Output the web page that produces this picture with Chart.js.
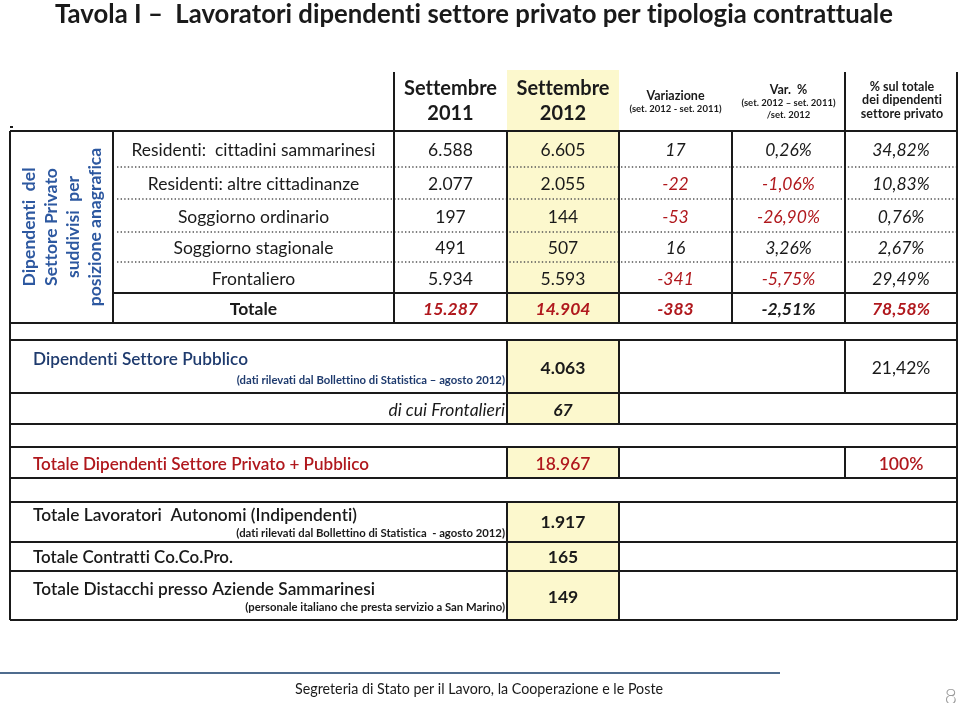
<!DOCTYPE html>
<html>
<head>
<meta charset="utf-8">
<script src="https://cdn.jsdelivr.net/npm/chart.js@4.4.1/dist/chart.umd.min.js"></script>
<style>
  html, body { margin: 0; padding: 0; background: #fff; }
  #wrap { width: 960px; height: 703px; }
</style>
</head>
<body>
<div id="wrap"><canvas id="tavola"></canvas></div>
<script>
const titolo = 'Tavola I \u2013  Lavoratori dipendenti settore privato per tipologia contrattuale';
const intestazioni = [
  ['Settembre', '2011'],
  ['Settembre', '2012'],
  ['Variazione', '(set. 2012 - set. 2011)'],
  ['Var.  %', '(set. 2012 \u2013 set. 2011)', '/set. 2012'],
  ['% sul totale', 'dei dipendenti', 'settore privato']
];
const gruppo = ['Dipendenti  del', 'Settore Privato', 'suddivisi  per', 'posizione anagrafica'];
const righe = ['Residenti:  cittadini sammarinesi', 'Residenti: altre cittadinanze', 'Soggiorno ordinario', 'Soggiorno stagionale', 'Frontaliero', 'Totale'];
const set2011 = [6588, 2077, 197, 491, 5934, 15287];
const set2012 = [6605, 2055, 144, 507, 5593, 14904];
const variazione = [17, -22, -53, 16, -341, -383];
const varPct = [0.26, -1.06, -26.90, 3.26, -5.75, -2.51];
const pctTotale = [34.82, 10.83, 0.76, 2.67, 29.49, 78.58];

const pubblicoVoce = ['Dipendenti Settore Pubblico', '(dati rilevati dal Bollettino di Statistica \u2013 agosto 2012)'];
const pubblicoValori = [4063, 21.42];
const frontalieriVoce = 'di cui Frontalieri';
const frontalieriValore = 67;
const totaleVoce = 'Totale Dipendenti Settore Privato + Pubblico';
const totaleValori = [18967, 100];
const altreVoci = ['Totale Lavoratori  Autonomi (Indipendenti)', 'Totale Contratti Co.Co.Pro.', 'Totale Distacchi presso Aziende Sammarinesi'];
const altreNote = ['(dati rilevati dal Bollettino di Statistica  - agosto 2012)', '', '(personale italiano che presta servizio a San Marino)'];
const altriValori = [1917, 165, 149];
const piede = 'Segreteria di Stato per il Lavoro, la Cooperazione e le Poste';
const pagina = '8';

// griglia della pagina (unita' = pixel della pagina)
const colX = [10, 113, 394, 507, 619, 732, 845, 957];
const corpoY = [131, 167, 199, 232, 262, 293, 323];
const sottoY = [340, 393, 424, 447, 478, 502, 542, 571, 620];

const FONT = 'Lato, "Open Sans", sans-serif';
const ROSSO = '#b0181d';
const NERO = '#1a1a1a';
const GIALLO = '#fcf8cd';
const CORPO = '17.5px';
const NOTA = '11.3px';

const fmtN = n => (n < 0 ? '-' : '') + String(Math.abs(n)).replace(/\B(?=(\d{3})+(?!\d))/g, '.');
const fmtP = n => (Number.isInteger(n) ? String(n) : n.toFixed(2).replace('.', ',')) + '%';

const colonne = [
  { valori: set2011, fmt: fmtN, corsivo: false },
  { valori: set2012, fmt: fmtN, corsivo: false },
  { valori: variazione, fmt: fmtN, corsivo: true },
  { valori: varPct, fmt: fmtP, corsivo: true },
  { valori: pctTotale, fmt: fmtP, corsivo: true }
];
const centroCol = k => (colX[k + 2] + colX[k + 3]) / 2;
const centroRiga = i => (corpoY[i] + corpoY[i + 1]) / 2 + 1.5;

const disegnaTavola = {
  id: 'disegnaTavola',
  beforeDatasetsDraw(chart) {
    const { ctx } = chart;
    const X = v => chart.scales.x.getPixelForValue(v);
    const Y = v => chart.scales.y.getPixelForValue(v);
    ctx.save();

    // colonna evidenziata
    ctx.fillStyle = GIALLO;
    [[70, 323], [340, 424], [447, 478], [502, 620]].forEach(([a, b]) => {
      ctx.fillRect(X(colX[3]), Y(a), X(colX[4]) - X(colX[3]), Y(b) - Y(a));
    });

    // linee tratteggiate fra le righe
    ctx.strokeStyle = '#555';
    ctx.lineWidth = 1.3;
    ctx.setLineDash([1.4, 2.2]);
    corpoY.slice(1, 5).forEach(y => {
      ctx.beginPath();
      ctx.moveTo(X(colX[1]) + 4, Y(y));
      ctx.lineTo(X(colX[7]), Y(y));
      ctx.stroke();
    });
    ctx.setLineDash([]);

    // linee piene
    const seg = [
      [10, 131, 10, 620], [957, 72, 957, 620], [394, 72, 394, 323], [845, 72, 845, 323],
      [113, 131, 113, 323], [507, 131, 507, 323], [619, 131, 619, 323], [732, 131, 732, 323],
      [507, 340, 507, 424], [619, 340, 619, 424], [845, 340, 845, 393],
      [507, 447, 507, 478], [619, 447, 619, 478], [845, 447, 845, 478],
      [507, 502, 507, 620], [619, 502, 619, 620],
      [10, 131, 957, 131], [113, 293, 957, 293], [10, 323, 957, 323],
      [10, 127, 13, 127]
    ];
    sottoY.forEach(y => seg.push([10, y, 957, y]));
    ctx.strokeStyle = NERO;
    ctx.lineWidth = 2;
    seg.forEach(([x1, y1, x2, y2]) => {
      ctx.beginPath();
      ctx.moveTo(X(x1), Y(y1));
      ctx.lineTo(X(x2), Y(y2));
      ctx.stroke();
    });

    // linea del piede
    ctx.strokeStyle = '#4f6c8e';
    ctx.lineWidth = 2;
    ctx.beginPath();
    ctx.moveTo(X(0), Y(673));
    ctx.lineTo(X(780), Y(673));
    ctx.stroke();
    ctx.restore();
  },

  afterDatasetsDraw(chart) {
    const { ctx } = chart;
    const X = v => chart.scales.x.getPixelForValue(v);
    const Y = v => chart.scales.y.getPixelForValue(v);
    const scrivi = (s, x, y, font, colore = NERO, align = 'center', maxW) => {
      ctx.font = font;
      ctx.fillStyle = colore;
      ctx.textAlign = align;
      ctx.textBaseline = 'middle';
      if (maxW) ctx.fillText(s, X(x), Y(y), maxW); else ctx.fillText(s, X(x), Y(y));
    };
    ctx.save();
    // niente legature "ti"/"tt" come nell'originale
    if ('letterSpacing' in ctx) ctx.letterSpacing = '0.01px';

    // titolo
    scrivi(titolo, 55, 14, `bold 26.5px ${FONT}`, NERO, 'left', 838);

    // intestazioni
    scrivi(intestazioni[0][0], centroCol(0), 89, `bold 20px ${FONT}`);
    scrivi(intestazioni[0][1], centroCol(0), 114, `bold 20px ${FONT}`);
    scrivi(intestazioni[1][0], centroCol(1), 89, `bold 20px ${FONT}`);
    scrivi(intestazioni[1][1], centroCol(1), 114, `bold 20px ${FONT}`);
    scrivi(intestazioni[2][0], centroCol(2), 96, `bold 12.5px ${FONT}`);
    scrivi(intestazioni[2][1], centroCol(2), 109, `bold 9.5px ${FONT}`);
    scrivi(intestazioni[3][0], centroCol(3), 90, `bold 12.5px ${FONT}`);
    scrivi(intestazioni[3][1], centroCol(3), 103, `bold 9.5px ${FONT}`);
    scrivi(intestazioni[3][2], centroCol(3), 115, `bold 9.5px ${FONT}`);
    scrivi(intestazioni[4][0], centroCol(4) + 1, 87, `bold 12.5px ${FONT}`);
    scrivi(intestazioni[4][1], centroCol(4) + 1, 100, `bold 12.5px ${FONT}`);
    scrivi(intestazioni[4][2], centroCol(4) + 1, 114, `bold 12.5px ${FONT}`);

    // gruppo verticale
    const gx = [29, 51, 73, 95];
    gruppo.forEach((s, i) => {
      ctx.save();
      ctx.translate(X(gx[i]), Y(227));
      ctx.rotate(-Math.PI / 2);
      ctx.font = `bold 17.5px ${FONT}`;
      ctx.fillStyle = '#2d58a0';
      ctx.textAlign = 'center';
      ctx.textBaseline = 'middle';
      ctx.fillText(s, 0, 0);
      ctx.restore();
    });

    // etichette delle righe
    righe.forEach((s, i) => {
      const ultima = i === righe.length - 1;
      scrivi(s, (colX[1] + colX[2]) / 2, centroRiga(i), `${ultima ? 'bold ' : ''}${CORPO} ${FONT}`, NERO, 'center', 244);
    });

    // valori: posizioni dai punti dei dataset
    chart.data.datasets.forEach((ds, k) => {
      const meta = chart.getDatasetMeta(k);
      const col = colonne[k];
      meta.data.forEach((pt, i) => {
        const v = ds.data[i].v;
        const tot = i === righe.length - 1;
        let colore = (col.corsivo && v < 0) ? ROSSO : NERO;
        if (tot) colore = k === 3 ? NERO : ROSSO;
        ctx.font = `${(col.corsivo || tot) ? 'italic ' : ''}${tot ? 'bold ' : ''}${CORPO} ${FONT}`;
        ctx.fillStyle = colore;
        ctx.textAlign = 'center';
        ctx.textBaseline = 'middle';
        ctx.fillText(col.fmt(v), pt.x, pt.y);
      });
    });

    // settore pubblico
    scrivi(pubblicoVoce[0], 33, 359, `600 ${CORPO} ${FONT}`, '#1f3b6e', 'left', 215);
    scrivi(pubblicoVoce[1], 505, 380, `bold ${NOTA} ${FONT}`, '#1f3b6e', 'right', 270);
    scrivi(fmtN(pubblicoValori[0]), centroCol(1), 368, `bold ${CORPO} ${FONT}`);
    scrivi(fmtP(pubblicoValori[1]), centroCol(4), 368, `${CORPO} ${FONT}`);
    scrivi(frontalieriVoce, 505, 410, `italic ${CORPO} ${FONT}`, NERO, 'right');
    scrivi(fmtN(frontalieriValore), centroCol(1), 410, `italic bold ${CORPO} ${FONT}`);

    // totale privato + pubblico
    scrivi(totaleVoce, 33, 464, `600 ${CORPO} ${FONT}`, ROSSO, 'left', 336);
    scrivi(fmtN(totaleValori[0]), centroCol(1), 464, `600 ${CORPO} ${FONT}`, ROSSO);
    scrivi(fmtP(totaleValori[1]), centroCol(4), 464, `600 ${CORPO} ${FONT}`, ROSSO);

    // altre voci
    const voceY = [515, 557, 589];
    const notaY = [533, 0, 607];
    const valY = [522, 557, 597];
    const voceW = [324, 200, 342];
    const notaW = [274, 0, 266];
    altreVoci.forEach((s, i) => {
      scrivi(s, 33, voceY[i], `600 ${CORPO} ${FONT}`, NERO, 'left', voceW[i]);
      if (altreNote[i]) scrivi(altreNote[i], 505, notaY[i], `bold ${NOTA} ${FONT}`, NERO, 'right', notaW[i]);
      scrivi(fmtN(altriValori[i]), centroCol(1), valY[i], `bold ${CORPO} ${FONT}`);
    });

    // piede
    scrivi(piede, 295, 689, `15px ${FONT}`, NERO, 'left', 368);
    scrivi(pagina, 957, 697, `300 21px ${FONT}`, '#9a9a9a', 'right');
    ctx.restore();
  }
};

new Chart(document.getElementById('tavola'), {
  type: 'scatter',
  data: {
    datasets: colonne.map((c, k) => ({
      label: intestazioni[k].join(' '),
      data: c.valori.map((v, i) => ({ x: centroCol(k), y: centroRiga(i), v })),
      pointRadius: 0,
      pointHoverRadius: 0
    }))
  },
  options: {
    responsive: true,
    maintainAspectRatio: false,
    animation: false,
    events: [],
    layout: { padding: 0 },
    plugins: { legend: { display: false }, tooltip: { enabled: false }, title: { display: false } },
    scales: {
      x: { type: 'linear', min: 0, max: 960, display: false },
      y: { type: 'linear', min: 0, max: 703, reverse: true, display: false }
    }
  },
  plugins: [disegnaTavola]
});
</script>
</body>
</html>
